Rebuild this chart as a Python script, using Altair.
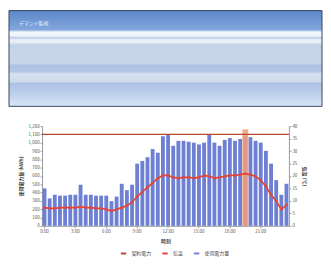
import altair as alt
import pandas as pd

# --- data (half-hour slots over one day) ---
slots = [f"{h}:{m:02d}" for h in range(24) for m in (0, 30)]
usage_kwh = [451, 330, 374, 363, 363, 374, 374, 495, 374, 374, 363, 363,
             363, 297, 352, 506, 429, 495, 748, 781, 825, 924, 880, 1078,
             1100, 963, 1023, 1023, 1012, 1001, 979, 1001, 1100, 1001, 963, 1034,
             1056, 1023, 1045, 1078, 1067, 1023, 1001, 902, 748, 550, 374, 506]
temp_c = [7.3, 7.0, 7.0, 7.3, 7.3, 7.3, 7.3, 7.7, 7.3, 7.3, 7.0, 7.0,
          6.6, 5.9, 6.6, 7.3, 8.1, 9.5, 11.7, 13.6, 15.4, 17.2, 19.1, 20.2,
          20.2, 19.4, 19.1, 19.4, 19.4, 19.1, 19.4, 20.2, 19.8, 19.1, 19.4, 19.8,
          20.2, 20.2, 20.5, 20.9, 20.5, 19.8, 18.3, 15.8, 12.5, 9.9, 6.6, 8.4]
contract_kw = [1100]
highlight_slot = ["19:30"]
tick_slots = ["0:00", "3:00", "6:00", "9:00", "12:00", "15:00", "18:00", "21:00"]
header_text = ["デマンド監視"]
series_names = ["契約電力", "気温", "使用電力量"]
series_colors = ["#b9492f", "#e2453a", "#6e80d4"]

df = pd.DataFrame({"slot": slots, "usage": usage_kwh, "temp": temp_c})

xenc = alt.X("slot:N", sort=slots,
             scale=alt.Scale(paddingInner=0.25, paddingOuter=0.1),
             axis=alt.Axis(values=tick_slots, title="時刻", labelAngle=0))

color_scale = alt.Scale(domain=series_names, range=series_colors)
cenc = alt.Color("series:N", scale=color_scale,
                 legend=alt.Legend(title=None, orient="none", direction="horizontal",
                                   legendX=112, legendY=242))
ytitle = "使用電力量 (kWh)"

bars = alt.Chart(df).transform_calculate(series="'使用電力量'").mark_bar().encode(
    x=xenc,
    y=alt.Y("usage:Q", scale=alt.Scale(domain=[0, 1200]),
            axis=alt.Axis(title=ytitle, tickCount=12)),
    color=cenc,
)

hl = alt.Chart(pd.DataFrame({"slot": highlight_slot})).mark_bar(
    color="#f49b78", opacity=0.85, width=6
).encode(
    x=alt.X("slot:N", sort=slots),
    y=alt.Y(datum=0, title=ytitle),
    y2=alt.datum(1160),
)

rule = alt.Chart(pd.DataFrame({"contract": contract_kw})).transform_calculate(
    series="'契約電力'"
).mark_rule(strokeWidth=1.2).encode(
    y=alt.Y("contract:Q", title=ytitle),
    color=cenc,
)

line = alt.Chart(df).transform_calculate(series="'気温'").mark_line(
    strokeWidth=1.8, point=alt.OverlayMarkDef(size=6, filled=True)
).encode(
    x=alt.X("slot:N", sort=slots),
    y=alt.Y("temp:Q", scale=alt.Scale(domain=[0, 40]),
            axis=alt.Axis(orient="right", title="気温 (℃)", tickCount=10)),
    color=cenc,
)

left = alt.layer(bars, hl, rule)
plot = alt.layer(left, line).resolve_scale(y="independent").properties(
    width=250, height=101,
    view=alt.ViewBackground(stroke=None, fill="white"),
)

grad = alt.LinearGradient(
    gradient="linear", x1=0, x2=0, y1=0, y2=1,
    stops=[alt.GradientStop(offset=0.0, color="#5b86c8"),
           alt.GradientStop(offset=0.20, color="#83a7dc"),
           alt.GradientStop(offset=0.225, color="#f4f7fb"),
           alt.GradientStop(offset=0.265, color="#eef3f9"),
           alt.GradientStop(offset=0.285, color="#b9cbe6"),
           alt.GradientStop(offset=0.305, color="#eef2f7"),
           alt.GradientStop(offset=0.335, color="#e6ecf4"),
           alt.GradientStop(offset=0.355, color="#c4d3e8"),
           alt.GradientStop(offset=0.55, color="#c8d6ea"),
           alt.GradientStop(offset=0.57, color="#aec3e4"),
           alt.GradientStop(offset=0.64, color="#b4c7e6"),
           alt.GradientStop(offset=0.66, color="#d6e0ee"),
           alt.GradientStop(offset=0.74, color="#d0dbec"),
           alt.GradientStop(offset=0.76, color="#adc2e4"),
           alt.GradientStop(offset=0.84, color="#b8cbe9"),
           alt.GradientStop(offset=1.0, color="#d8e5f5")],
)

hdr_df = pd.DataFrame({"t": header_text})
hdr_bg = alt.Chart(hdr_df).mark_rect(fill=grad, stroke="#3b4663", strokeWidth=1).encode(
    x=alt.value(0), x2=alt.value(317), y=alt.value(0), y2=alt.value(97)
)
hdr_txt = alt.Chart(hdr_df).mark_text(
    align="left", baseline="middle", fontSize=5, color="#e8eef8"
).encode(
    x=alt.value(10), y=alt.value(13), text="t:N"
)
header = alt.layer(hdr_bg, hdr_txt).properties(
    width=317, height=97, view=alt.ViewBackground(stroke=None)
)

chart = alt.vconcat(header, plot, spacing=20, center=True, bounds="flush").configure(
    background="white", font="Noto Sans CJK JP", padding=0
).configure_axis(
    labelFontSize=4.5, titleFontSize=5, labelColor="#555", titleColor="#444",
    tickSize=2, domainColor="#999", tickColor="#999", grid=False,
    labelPadding=1, titlePadding=5,
).configure_legend(
    labelFontSize=5, symbolType="stroke", symbolStrokeWidth=2, symbolSize=30,
    columnPadding=6, labelColor="#444",
)

chart.save("out.html", embed_options={"renderer": "svg", "actions": False})
